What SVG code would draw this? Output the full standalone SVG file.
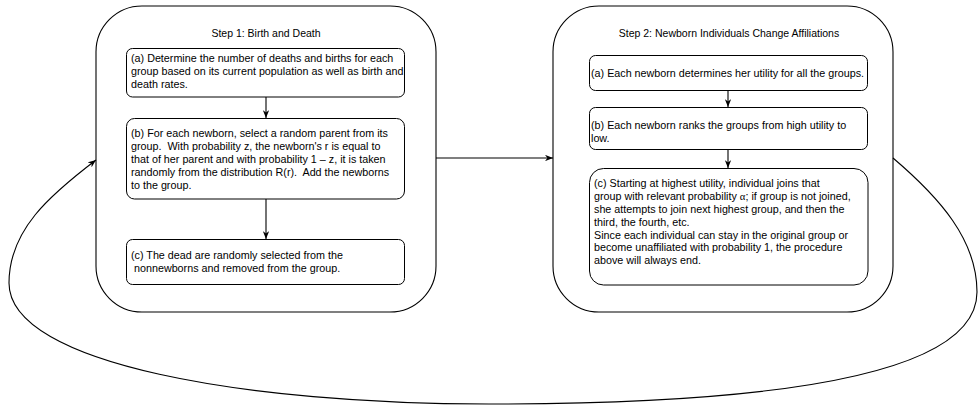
<svg xmlns="http://www.w3.org/2000/svg" width="979" height="406" viewBox="0 0 979 406">
<style>
  .outer { fill: #ffffff; stroke: #000000; stroke-width: 1.1; }
  .box { fill: #ffffff; stroke: #000000; stroke-width: 1; }
  .t { font-family: "Liberation Sans", Arial, Helvetica, sans-serif; font-size: 10.75px; fill: #000000; white-space: pre; }
  .title { text-anchor: middle; font-size: 10.5px; }
  .edge { fill: none; stroke: #000000; stroke-width: 1.1; }
  .greek { font-family: "Liberation Serif", "Times New Roman", serif; }
</style>
<defs>
  <marker id="arr" viewBox="0 0 10 8" refX="10" refY="4" markerWidth="8" markerHeight="6.4" markerUnits="userSpaceOnUse" orient="auto">
    <path d="M0,0 L10,4 L0,8 L3,4 z" fill="#000000"/>
  </marker>
</defs>

<g id="step1">
  <rect class="outer" x="96" y="6" width="340" height="306" rx="46" ry="46"/>
  <text class="t title" x="266" y="37">Step 1: Birth and Death</text>
</g>
<g id="step1a">
  <rect class="box" x="126.5" y="48.5" width="278" height="48.5" rx="6" ry="6"/>
  <text class="t" x="131" y="62">(a) Determine the number of deaths and births for each</text>
  <text class="t" x="131" y="75">group based on its current population as well as birth and</text>
  <text class="t" x="131" y="88">death rates.</text>
</g>
<g id="step1b">
  <rect class="box" x="126.5" y="118.5" width="278" height="80.5" rx="8" ry="8"/>
  <text class="t" x="131" y="137">(b) For each newborn, select a random parent from its</text>
  <text class="t" x="131" y="150">group.  With probability z, the newborn's r is equal to</text>
  <text class="t" x="131" y="163">that of her parent and with probability 1 – z, it is taken</text>
  <text class="t" x="131" y="176">randomly from the distribution R(r).  Add the newborns</text>
  <text class="t" x="131" y="189">to the group.</text>
</g>
<g id="step1c">
  <rect class="box" x="126.5" y="239.5" width="278" height="45" rx="6" ry="6"/>
  <text class="t" x="131" y="259">(c) The dead are randomly selected from the</text>
  <text class="t" x="131" y="272"> nonnewborns and removed from the group.</text>
</g>

<g id="step2">
  <rect class="outer" x="553" y="6" width="340" height="306" rx="46" ry="46"/>
  <text class="t title" x="729" y="37">Step 2: Newborn Individuals Change Affiliations</text>
</g>
<g id="step2a">
  <rect class="box" x="589.5" y="55.5" width="278" height="35" rx="6" ry="6"/>
  <text class="t" x="591" y="77">(a) Each newborn determines her utility for all the groups.</text>
</g>
<g id="step2b">
  <rect class="box" x="589.5" y="107.5" width="278" height="42" rx="6" ry="6"/>
  <text class="t" x="591" y="129">(b) Each newborn ranks the groups from high utility to</text>
  <text class="t" x="591" y="142">low.</text>
</g>
<g id="step2c">
  <rect class="box" x="589.5" y="168.5" width="278.5" height="116.5" rx="14" ry="14"/>
  <text class="t" x="594" y="187">(c) Starting at highest utility, individual joins that</text>
  <text class="t" x="594" y="200">group with relevant probability <tspan class="greek">α</tspan>; if group is not joined,</text>
  <text class="t" x="594" y="213">she attempts to join next highest group, and then the</text>
  <text class="t" x="594" y="226">third, the fourth, etc.</text>
  <text class="t" x="594" y="239">Since each individual can stay in the original group or</text>
  <text class="t" x="594" y="251">become unaffiliated with probability 1, the procedure</text>
  <text class="t" x="594" y="264">above will always end.</text>
</g>

<g id="connectors">
  <line class="edge" x1="266" y1="97" x2="266" y2="118" marker-end="url(#arr)"/>
  <line class="edge" x1="266" y1="199" x2="266" y2="239" marker-end="url(#arr)"/>
  <line class="edge" x1="728" y1="91" x2="728" y2="107" marker-end="url(#arr)"/>
  <line class="edge" x1="728" y1="150" x2="728" y2="168" marker-end="url(#arr)"/>
  <line class="edge" x1="436" y1="158" x2="553" y2="158" marker-end="url(#arr)"/>
  <path class="edge" d="M893,158 C940,198 977,240 977,292 C977,378 760,404 489,404 C250,404 9,365 9,283 C9,230 50,195 96,160" marker-end="url(#arr)"/>
</g>
</svg>
